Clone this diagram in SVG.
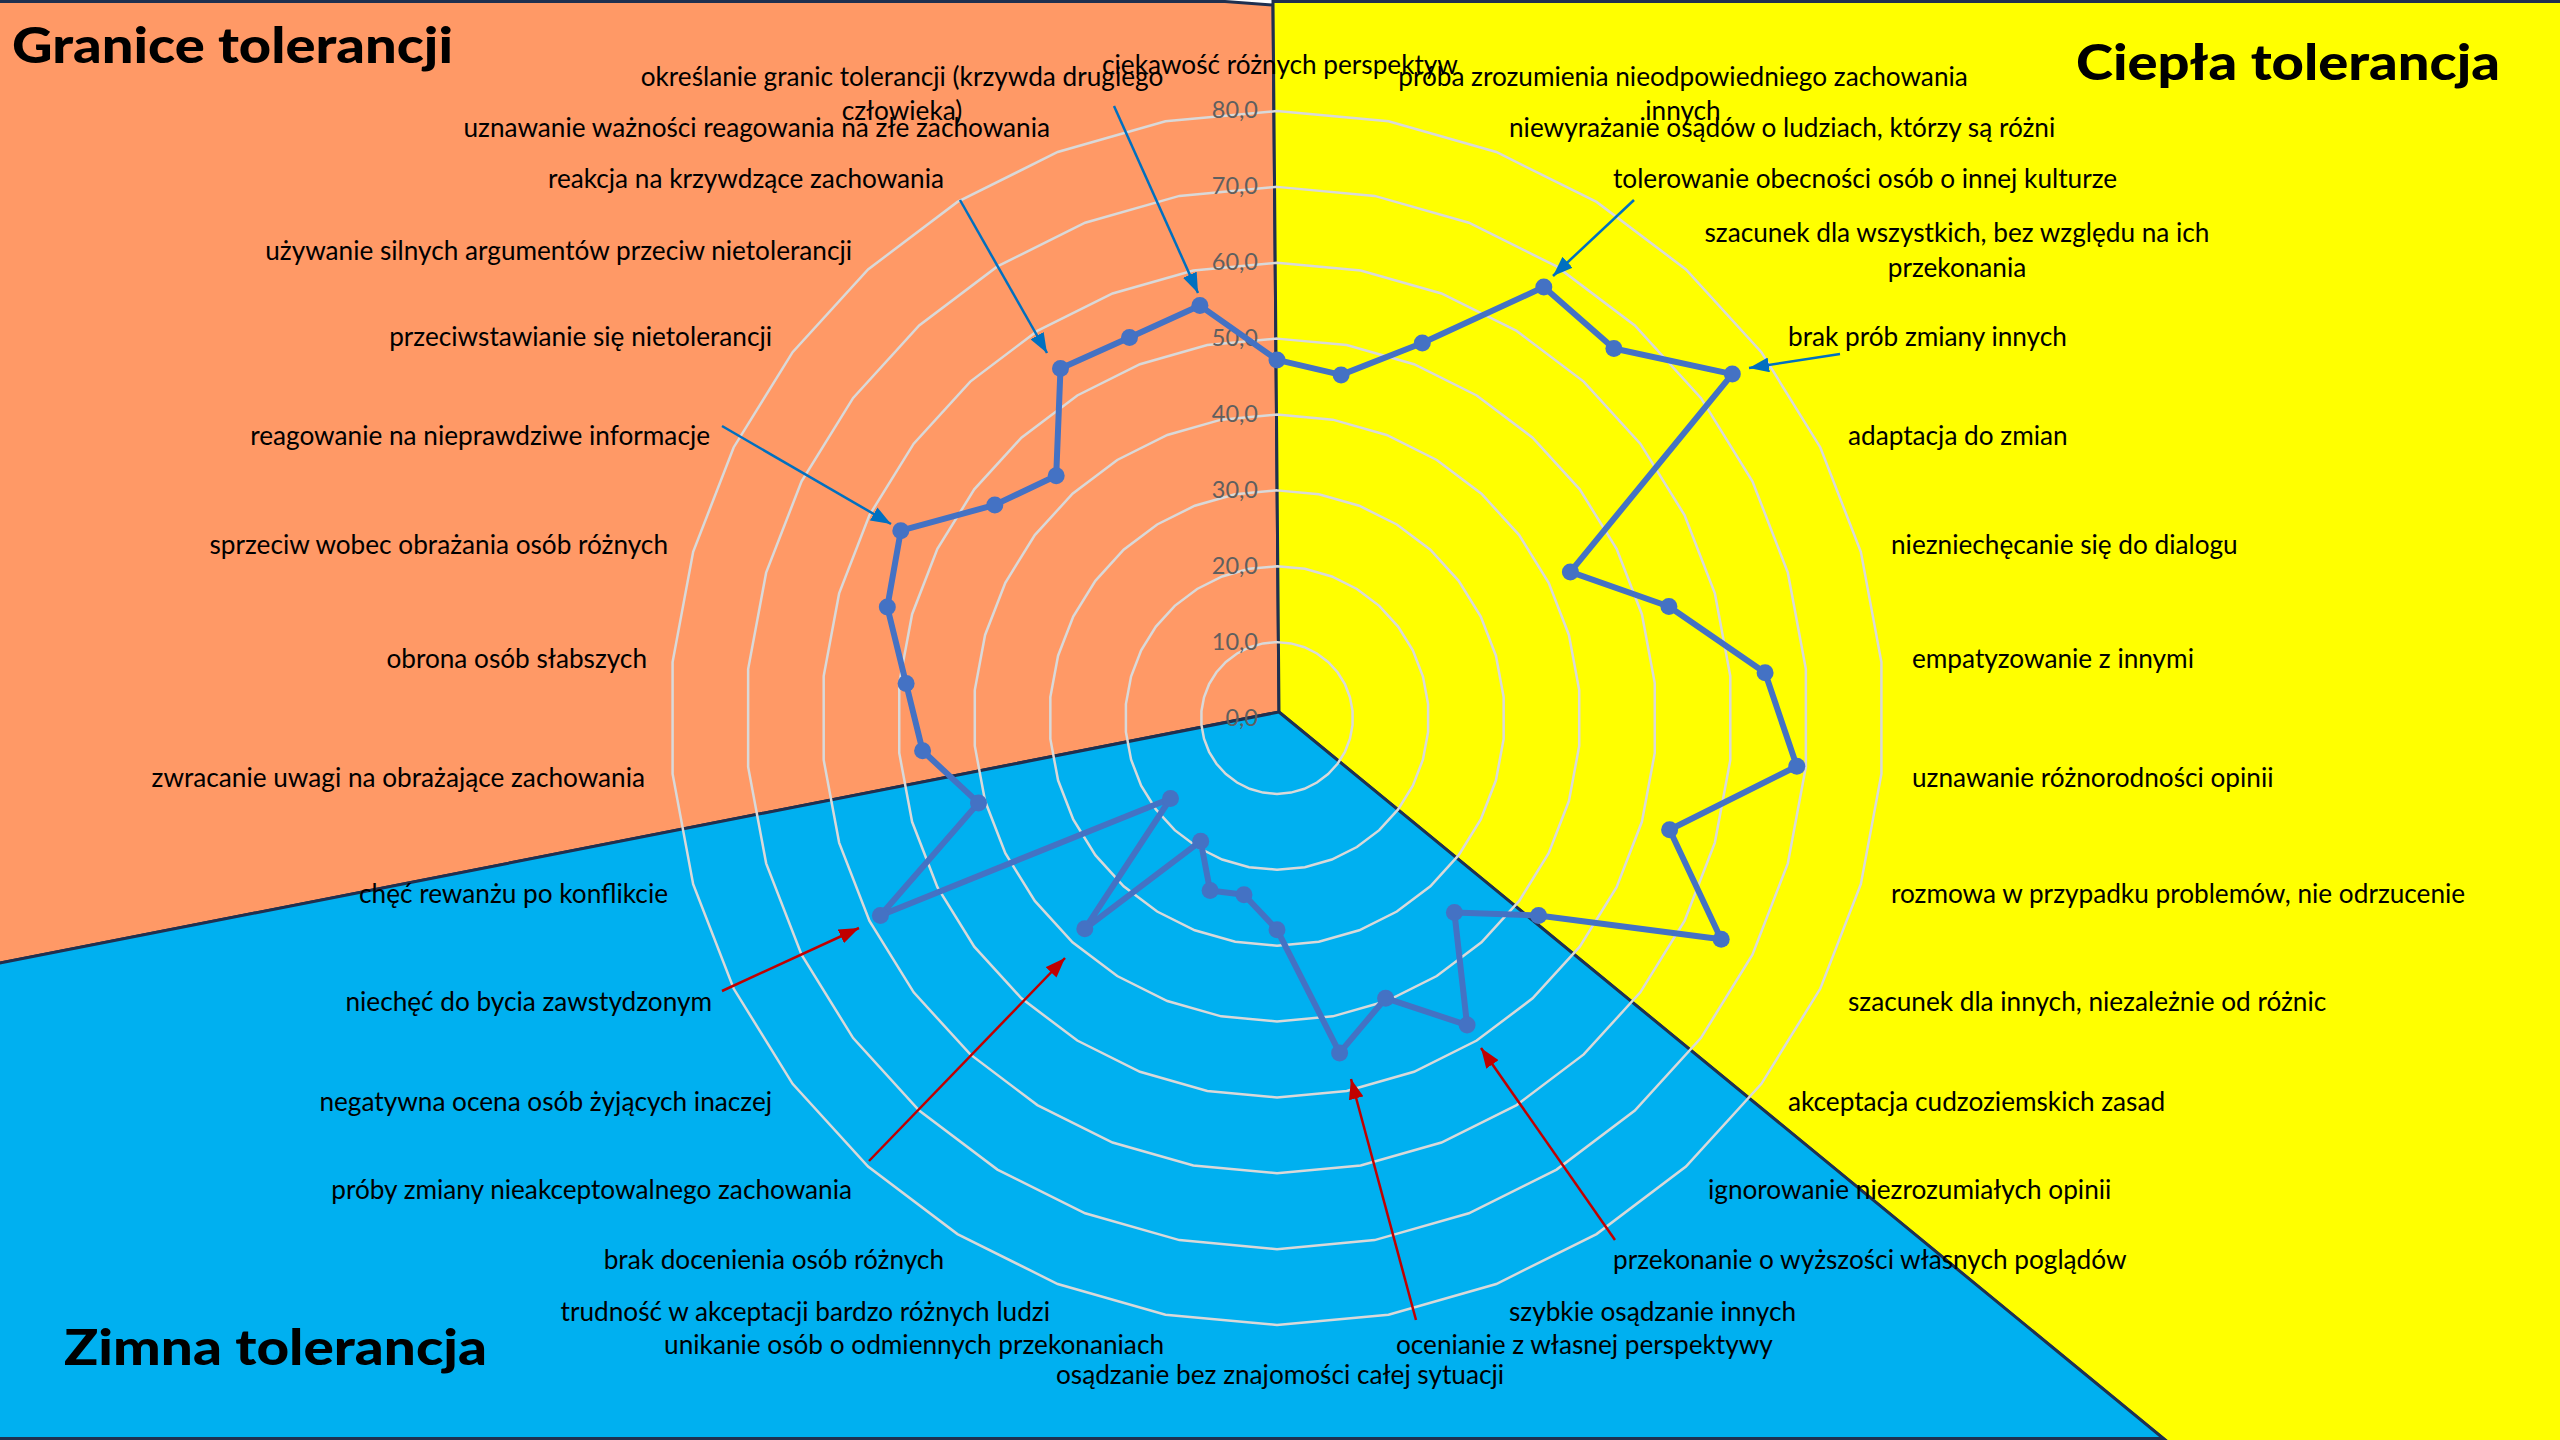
<svg xmlns="http://www.w3.org/2000/svg" xmlns:xlink="http://www.w3.org/1999/xlink" width="2560" height="1440" viewBox="0 0 2560 1440">
<style>
.lbl{font-family:Lato,"Liberation Sans",sans-serif;font-size:26.2px;fill:#000;dominant-baseline:middle}
.s{text-anchor:start}.e{text-anchor:end}.m{text-anchor:middle}
.ax{font-family:Lato,"Liberation Sans",sans-serif;font-size:23.5px;fill:#5f5f5f;text-anchor:end;dominant-baseline:middle}
.title{font-family:Lato,"Liberation Sans",sans-serif;font-weight:900;font-size:50px;fill:#000}
.zone{stroke:#1F3050;stroke-width:3;stroke-linejoin:miter}
.ringp{fill:none;stroke:#D9D9D9;stroke-width:2.5}
.series{fill:none;stroke:#4472C4;stroke-width:6;stroke-linejoin:round}
.mk{fill:#4472C4}
.ab{stroke:#0070C0;stroke-width:2.5;fill:none;marker-end:url(#hb)}
.ar{stroke:#C00000;stroke-width:2.5;fill:none;marker-end:url(#hr)}
</style>
<defs>
<polygon id="ring" class="ringp" vector-effect="non-scaling-stroke" points="0,-100 18.375,-98.297 36.124,-93.247 52.643,-85.022 67.370,-73.901 79.802,-60.263 89.516,-44.573 96.183,-27.366 99.573,-9.227 99.573,9.227 96.183,27.366 89.516,44.573 79.802,60.263 67.370,73.901 52.643,85.022 36.124,93.247 18.375,98.297 0,100 -18.375,98.297 -36.124,93.247 -52.643,85.022 -67.370,73.901 -79.802,60.263 -89.516,44.573 -96.183,27.366 -99.573,9.227 -99.573,-9.227 -96.183,-27.366 -89.516,-44.573 -79.802,-60.263 -67.370,-73.901 -52.643,-85.022 -36.124,-93.247 -18.375,-98.297"/>
<marker id="hb" viewBox="0 0 10 10" refX="10" refY="5" markerUnits="userSpaceOnUse" markerWidth="20" markerHeight="15" preserveAspectRatio="none" orient="auto"><path d="M0,0 L10,5 L0,10 z" fill="#0070C0"/></marker>
<marker id="hr" viewBox="0 0 10 10" refX="10" refY="5" markerUnits="userSpaceOnUse" markerWidth="20" markerHeight="15" preserveAspectRatio="none" orient="auto"><path d="M0,0 L10,5 L0,10 z" fill="#C00000"/></marker>
</defs>
<rect x="0" y="0" width="2560" height="1440" fill="#FFFFFF"/>
<g id="zones">
<polygon id="zone-granice" class="zone" fill="#FF9966" points="-5,1.5 1225,1.5 1273,5 1279,712 -5,964"/>
<polygon id="zone-ciepla" class="zone" fill="#FFFF00" points="1273,1.5 2565,1.5 2565,1445 2171,1445 1279,712"/>
<polygon id="zone-zimna" class="zone" fill="#00B0F0" points="-5,964 1279,712 2163.5,1438.5 -5,1438.5"/>
</g>
<g id="grid">
<use xlink:href="#ring" transform="translate(1277 718) scale(0.75875)"/>
<use xlink:href="#ring" transform="translate(1277 718) scale(1.5175)"/>
<use xlink:href="#ring" transform="translate(1277 718) scale(2.27625)"/>
<use xlink:href="#ring" transform="translate(1277 718) scale(3.035)"/>
<use xlink:href="#ring" transform="translate(1277 718) scale(3.79375)"/>
<use xlink:href="#ring" transform="translate(1277 718) scale(4.5525)"/>
<use xlink:href="#ring" transform="translate(1277 718) scale(5.31125)"/>
<use xlink:href="#ring" transform="translate(1277 718) scale(6.07)"/>
</g>
<g id="axis-labels">
<text class="ax" x="1258" y="112">80,0</text>
<text class="ax" x="1258" y="188">70,0</text>
<text class="ax" x="1258" y="264">60,0</text>
<text class="ax" x="1258" y="340">50,0</text>
<text class="ax" x="1258" y="416">40,0</text>
<text class="ax" x="1258" y="492">30,0</text>
<text class="ax" x="1258" y="568">20,0</text>
<text class="ax" x="1258" y="644">10,0</text>
<text class="ax" x="1258" y="720">0,0</text>
</g>
<g id="series">
<polygon class="series" points="1277,359.9 1341.1,374.9 1422.3,343 1543.8,287.1 1613.9,348.5 1732.3,374.1 1570.4,571.9 1668.9,606.5 1765.1,672.8 1796.8,766.2 1669.6,829.7 1721.2,939.2 1538.6,915.5 1454.4,912.6 1467.1,1025.1 1385.6,998.2 1339.6,1052.9 1277,929.7 1244,894.7 1210.1,890.6 1200.7,841.2 1084.8,928.8 1170.5,798.5 880.4,915.5 978.5,802.9 922.6,750.8 906.1,683.6 887.3,607.1 900.8,530.7 994.8,504.9 1056.2,475.8 1060.5,368.4 1129.5,337.4 1199.9,305.6"/>
<g class="mk">
<circle cx="1277" cy="359.9" r="8.5"/><circle cx="1341.1" cy="374.9" r="8.5"/><circle cx="1422.3" cy="343" r="8.5"/><circle cx="1543.8" cy="287.1" r="8.5"/><circle cx="1613.9" cy="348.5" r="8.5"/><circle cx="1732.3" cy="374.1" r="8.5"/><circle cx="1570.4" cy="571.9" r="8.5"/><circle cx="1668.9" cy="606.5" r="8.5"/><circle cx="1765.1" cy="672.8" r="8.5"/><circle cx="1796.8" cy="766.2" r="8.5"/><circle cx="1669.6" cy="829.7" r="8.5"/><circle cx="1721.2" cy="939.2" r="8.5"/><circle cx="1538.6" cy="915.5" r="8.5"/><circle cx="1454.4" cy="912.6" r="8.5"/><circle cx="1467.1" cy="1025.1" r="8.5"/><circle cx="1385.6" cy="998.2" r="8.5"/><circle cx="1339.6" cy="1052.9" r="8.5"/><circle cx="1277" cy="929.7" r="8.5"/><circle cx="1244" cy="894.7" r="8.5"/><circle cx="1210.1" cy="890.6" r="8.5"/><circle cx="1200.7" cy="841.2" r="8.5"/><circle cx="1084.8" cy="928.8" r="8.5"/><circle cx="1170.5" cy="798.5" r="8.5"/><circle cx="880.4" cy="915.5" r="8.5"/><circle cx="978.5" cy="802.9" r="8.5"/><circle cx="922.6" cy="750.8" r="8.5"/><circle cx="906.1" cy="683.6" r="8.5"/><circle cx="887.3" cy="607.1" r="8.5"/><circle cx="900.8" cy="530.7" r="8.5"/><circle cx="994.8" cy="504.9" r="8.5"/><circle cx="1056.2" cy="475.8" r="8.5"/><circle cx="1060.5" cy="368.4" r="8.5"/><circle cx="1129.5" cy="337.4" r="8.5"/><circle cx="1199.9" cy="305.6" r="8.5"/>
</g>
</g>
<g id="categories">
<g id="cat-01"><text class="lbl m" x="1280" y="67">ciekawość różnych perspektyw</text></g>
<g id="cat-02"><text class="lbl m" x="1683" y="79">próba zrozumienia nieodpowiedniego zachowania</text><text class="lbl m" x="1683" y="113">innych</text></g>
<g id="cat-03"><text class="lbl s" x="1509" y="130">niewyrażanie osądów o ludziach, którzy są różni</text></g>
<g id="cat-04"><text class="lbl s" x="1613" y="181">tolerowanie obecności osób o innej kulturze</text></g>
<g id="cat-05"><text class="lbl m" x="1957" y="235">szacunek dla wszystkich, bez względu na ich</text><text class="lbl m" x="1957" y="270">przekonania</text></g>
<g id="cat-06"><text class="lbl s" x="1788" y="339">brak prób zmiany innych</text></g>
<g id="cat-07"><text class="lbl s" x="1848" y="438">adaptacja do zmian</text></g>
<g id="cat-08"><text class="lbl s" x="1891" y="547">niezniechęcanie się do dialogu</text></g>
<g id="cat-09"><text class="lbl s" x="1912" y="661">empatyzowanie z innymi</text></g>
<g id="cat-10"><text class="lbl s" x="1912" y="780">uznawanie różnorodności opinii</text></g>
<g id="cat-11"><text class="lbl s" x="1891" y="896">rozmowa w przypadku problemów, nie odrzucenie</text></g>
<g id="cat-12"><text class="lbl s" x="1848" y="1004">szacunek dla innych, niezależnie od różnic</text></g>
<g id="cat-13"><text class="lbl s" x="1788" y="1104">akceptacja cudzoziemskich zasad</text></g>
<g id="cat-14"><text class="lbl s" x="1708" y="1192">ignorowanie niezrozumiałych opinii</text></g>
<g id="cat-15"><text class="lbl s" x="1613" y="1262">przekonanie o wyższości własnych poglądów</text></g>
<g id="cat-16"><text class="lbl s" x="1509" y="1314">szybkie osądzanie innych</text></g>
<g id="cat-17"><text class="lbl s" x="1396" y="1347">ocenianie z własnej perspektywy</text></g>
<g id="cat-18"><text class="lbl m" x="1280" y="1377">osądzanie bez znajomości całej sytuacji</text></g>
<g id="cat-19"><text class="lbl e" x="1164" y="1347">unikanie osób o odmiennych przekonaniach</text></g>
<g id="cat-20"><text class="lbl e" x="1050" y="1314">trudność w akceptacji bardzo różnych ludzi</text></g>
<g id="cat-21"><text class="lbl e" x="944" y="1262">brak docenienia osób różnych</text></g>
<g id="cat-22"><text class="lbl e" x="852" y="1192">próby zmiany nieakceptowalnego zachowania</text></g>
<g id="cat-23"><text class="lbl e" x="772" y="1104">negatywna ocena osób żyjących inaczej</text></g>
<g id="cat-24"><text class="lbl e" x="712" y="1004">niechęć do bycia zawstydzonym</text></g>
<g id="cat-25"><text class="lbl e" x="668" y="896">chęć rewanżu po konflikcie</text></g>
<g id="cat-26"><text class="lbl e" x="645" y="780">zwracanie uwagi na obrażające zachowania</text></g>
<g id="cat-27"><text class="lbl e" x="647" y="661">obrona osób słabszych</text></g>
<g id="cat-28"><text class="lbl e" x="668" y="547">sprzeciw wobec obrażania osób różnych</text></g>
<g id="cat-29"><text class="lbl e" x="710" y="438">reagowanie na nieprawdziwe informacje</text></g>
<g id="cat-30"><text class="lbl e" x="772" y="339">przeciwstawianie się nietolerancji</text></g>
<g id="cat-31"><text class="lbl e" x="852" y="253">używanie silnych argumentów przeciw nietolerancji</text></g>
<g id="cat-32"><text class="lbl e" x="944" y="181">reakcja na krzywdzące zachowania</text></g>
<g id="cat-33"><text class="lbl e" x="1050" y="130">uznawanie ważności reagowania na złe zachowania</text></g>
<g id="cat-34"><text class="lbl m" x="902" y="79">określanie granic tolerancji (krzywda drugiego</text><text class="lbl m" x="902" y="113">człowieka)</text></g>
</g>
<g id="connectors">
<line class="ab" x1="1114" y1="106" x2="1198" y2="293"/>
<line class="ab" x1="960" y1="200" x2="1047" y2="353"/>
<line class="ab" x1="722" y1="426" x2="891" y2="524"/>
<line class="ab" x1="1634" y1="200" x2="1553" y2="276"/>
<line class="ab" x1="1840" y1="354" x2="1749" y2="368"/>
<line class="ar" x1="722" y1="991" x2="859" y2="928"/>
<line class="ar" x1="869" y1="1161" x2="1065" y2="958"/>
<line class="ar" x1="1416" y1="1320" x2="1351" y2="1079"/>
<line class="ar" x1="1615" y1="1240" x2="1481" y2="1048"/>
</g>
<g id="titles">
<text id="title-granice" class="title" x="12" y="63" textLength="441" lengthAdjust="spacingAndGlyphs">Granice tolerancji</text>
<text id="title-ciepla" class="title" x="2076" y="80" textLength="424" lengthAdjust="spacingAndGlyphs">Ciepła tolerancja</text>
<text id="title-zimna" class="title" x="64" y="1365" textLength="423" lengthAdjust="spacingAndGlyphs">Zimna tolerancja</text>
</g>
</svg>
